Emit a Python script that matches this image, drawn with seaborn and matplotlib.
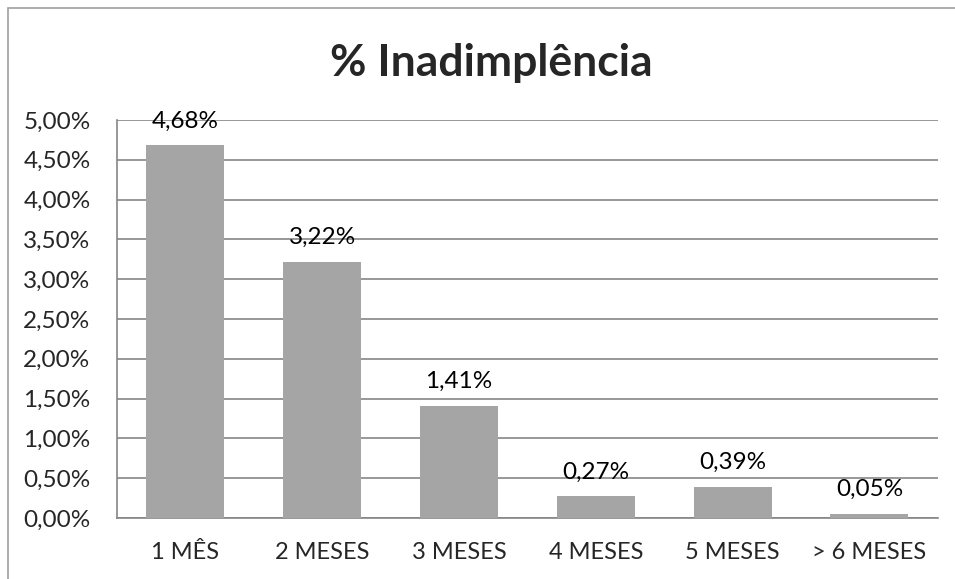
import matplotlib.pyplot as plt
import matplotlib.patches as mpatches
import pandas as pd
import seaborn as sns
from matplotlib.ticker import FuncFormatter, MultipleLocator

categorias = ["1 MÊS", "2 MESES", "3 MESES", "4 MESES", "5 MESES", "> 6 MESES"]
inadimplencia = [4.68, 3.22, 1.41, 0.27, 0.39, 0.05]  # em %
titulo = "% Inadimplência"

df = pd.DataFrame({"mes": categorias, "pct": inadimplencia})

sns.set_style("white")
plt.rcParams["font.family"] = ["Lato", "DejaVu Sans"]

fig = plt.figure(figsize=(9.55, 5.79), dpi=100)
ax = fig.add_axes([0.1225, 0.1054, 0.982 - 0.1225, 0.7927 - 0.1054])

sns.barplot(data=df, x="mes", y="pct", color="#A5A5A5", saturation=1, width=0.57,
            linewidth=0, ax=ax, zorder=3)

ax.set_ylim(0, 5.0)
ax.yaxis.set_major_locator(MultipleLocator(0.5))
ax.yaxis.set_major_formatter(FuncFormatter(lambda v, p: f"{v:.2f}%".replace(".", ",")))
ax.grid(axis="y", color="#868686", linewidth=1.2, zorder=0)
ax.set_axisbelow(True)

for s in ["top", "right"]:
    ax.spines[s].set_visible(False)
for s in ["left", "bottom"]:
    ax.spines[s].set_color("#868686")
    ax.spines[s].set_linewidth(1.2)

ax.tick_params(axis="y", length=0, pad=19, labelsize=17.5)
ax.tick_params(axis="x", length=0, pad=17, labelsize=17)
ax.set_xlabel("")
ax.set_ylabel("")

ax.bar_label(ax.containers[0], labels=[f"{v:.2f}%".replace(".", ",") for v in inadimplencia],
             padding=10, fontsize=17.5, color="#000000")

fig.text(0.514, 0.892, titulo, ha="center", va="center", fontsize=32, fontweight="bold")

# moldura do gráfico
fig.patches.append(mpatches.Rectangle((8 / 955, -0.05), 1.1, 1 - 8 / 579 + 0.05,
                                      transform=fig.transFigure, fill=False,
                                      edgecolor="#A0A0A0", linewidth=1.2))

plt.savefig("out.png", dpi=100)
